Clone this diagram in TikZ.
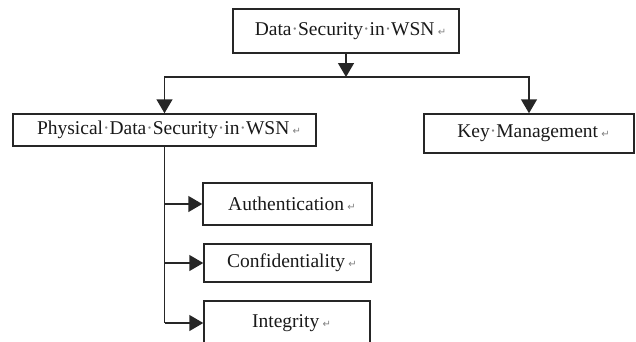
\documentclass[tikz,border=0pt]{standalone}
\usepackage{fontspec}
\setmainfont{Liberation Serif}
\newfontfamily\markfont{DejaVu Sans}
\usetikzlibrary{arrows.meta}
\definecolor{markgray}{gray}{0.5}
\newcommand\retmark{\,{\markfont\fontsize{10}{10}\selectfont\color{markgray}↵}}
\newcommand\sdot{{\color{markgray}·}}
\newcommand\lead{\hspace*{9pt}}
\begin{document}
\begin{tikzpicture}[x=1pt,y=-1pt,
  box/.style={draw=black!85, line width=1.5pt, inner sep=0pt, font=\fontsize{19.5}{22}\selectfont, text=black!90},
  link/.style={draw=black!85, line width=1.5pt},
  arr/.style={link, -{Triangle[width=16pt,length=14pt]}}]
\useasboundingbox (0,0) rectangle (636,341);
\node[box, minimum width=226pt, minimum height=44pt] (top) at (346,31) {\lead Data\sdot Security\sdot in\sdot WSN\retmark};
\node[box, minimum width=303pt, minimum height=32pt] (phys) at (164.5,130) {\lead Physical\sdot Data\sdot Security\sdot in\sdot WSN\retmark};
\node[box, minimum width=210pt, minimum height=39pt] (key) at (529,133.5) {\lead Key\sdot Management\retmark};
\node[box, minimum width=169pt, minimum height=42pt] (auth) at (287.5,204) {\lead Authentication\retmark};
\node[box, minimum width=167pt, minimum height=38pt] (conf) at (287.5,263) {\lead Confidentiality\retmark};
\node[box, minimum width=166pt, minimum height=44pt] (integ) at (287,323) {\lead Integrity\retmark};
\coordinate (j) at (346,77);
\draw[arr] (top.south) -- (j);
\draw[arr] (j) -| (phys.north);
\draw[arr] (j) -| (key.north);
\draw[link] (phys.south) -- (phys.south |- integ.west);
\draw[arr] (phys.south |- auth.west) -- (auth.west);
\draw[arr] (phys.south |- conf.west) -- (conf.west);
\draw[arr] (phys.south |- integ.west) -- (integ.west);
\end{tikzpicture}
\end{document}
